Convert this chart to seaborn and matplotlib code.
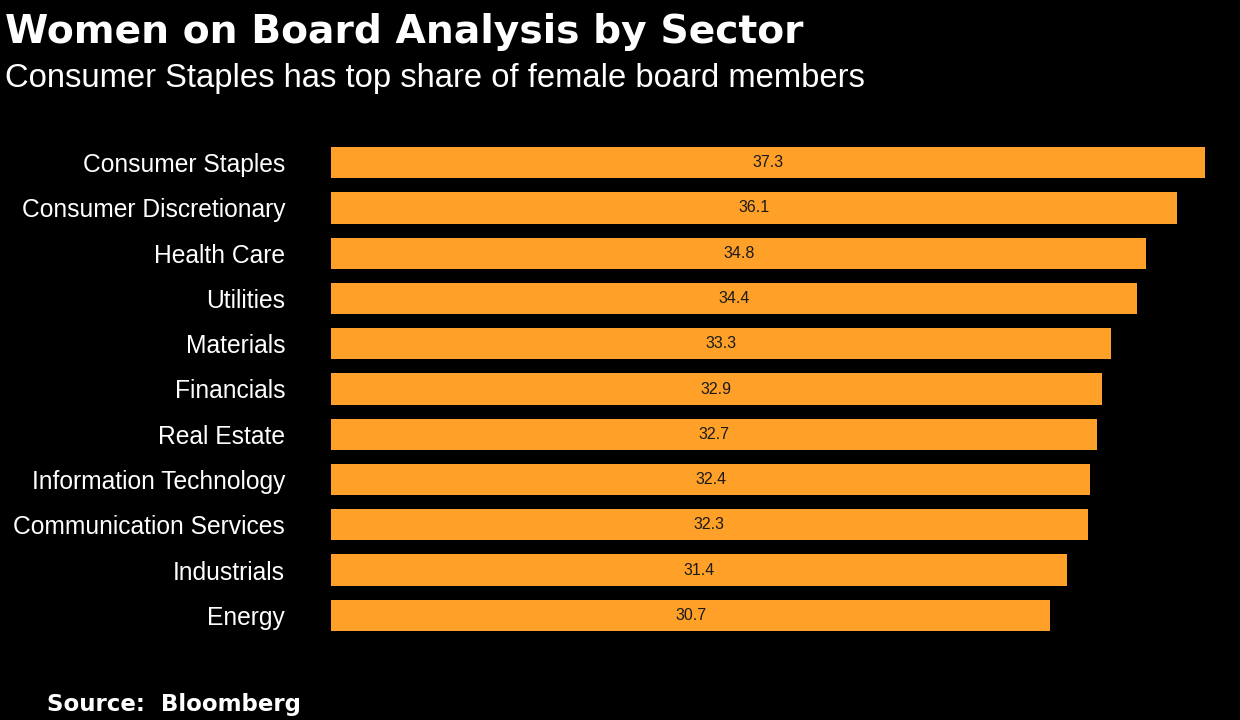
"""Women on board share by sector, horizontal bar chart."""

import matplotlib.pyplot as plt
import pandas as pd
import seaborn as sns

SECTORS = [
    "Consumer Staples", "Consumer Discretionary", "Health Care", "Utilities",
    "Materials", "Financials", "Real Estate", "Information Technology",
    "Communication Services", "Industrials", "Energy",
]
SHARE = [37.3, 36.1, 34.8, 34.4, 33.3, 32.9, 32.7, 32.4, 32.3, 31.4, 30.7]

BAR_COLOR = "#FFA028"
BG = "#000000"

sns.set_theme(style="white")
plt.rcParams["font.family"] = ["Liberation Sans", "DejaVu Sans"]

df = pd.DataFrame({"sector": SECTORS, "share": SHARE})

fig = plt.figure(figsize=(12.4, 7.2), dpi=100, facecolor=BG)
ax = fig.add_axes([331 / 1240, 1 - 638 / 720, (1205 - 331) / 1240, (638 - 140) / 720])
ax.set_facecolor(BG)

sns.barplot(data=df, x="share", y="sector", color=BAR_COLOR, saturation=1,
            width=0.69, linewidth=0, ax=ax)

for i, v in enumerate(SHARE):
    ax.text(v / 2, i, f"{v:.1f}", ha="center", va="center",
            fontsize=11.5, color="#1a1a1a")

ax.set_xlim(0, max(SHARE))
ax.set_ylim(len(SECTORS) - 0.5, -0.5)
ax.set_xlabel("")
ax.set_ylabel("")
ax.set_xticks([])
ax.tick_params(axis="y", length=0, pad=33, labelsize=17.7, labelcolor="white")
for s in ax.spines.values():
    s.set_visible(False)

fig.text(5 / 1240, 1 - 43 / 720, "Women on Board Analysis by Sector",
         fontsize=28.3, fontweight="bold", color="white",
         family=["DejaVu Sans"], va="baseline")
fig.text(5 / 1240, 1 - 87 / 720, "Consumer Staples has top share of female board members",
         fontsize=23.6, color="white", va="baseline")
fig.text(47 / 1240, 1 - 711 / 720, "Source:  Bloomberg",
         fontsize=16.5, fontweight="bold", color="white",
         family=["DejaVu Sans"], va="baseline")

fig.savefig("out.png", dpi=100, facecolor=BG)
